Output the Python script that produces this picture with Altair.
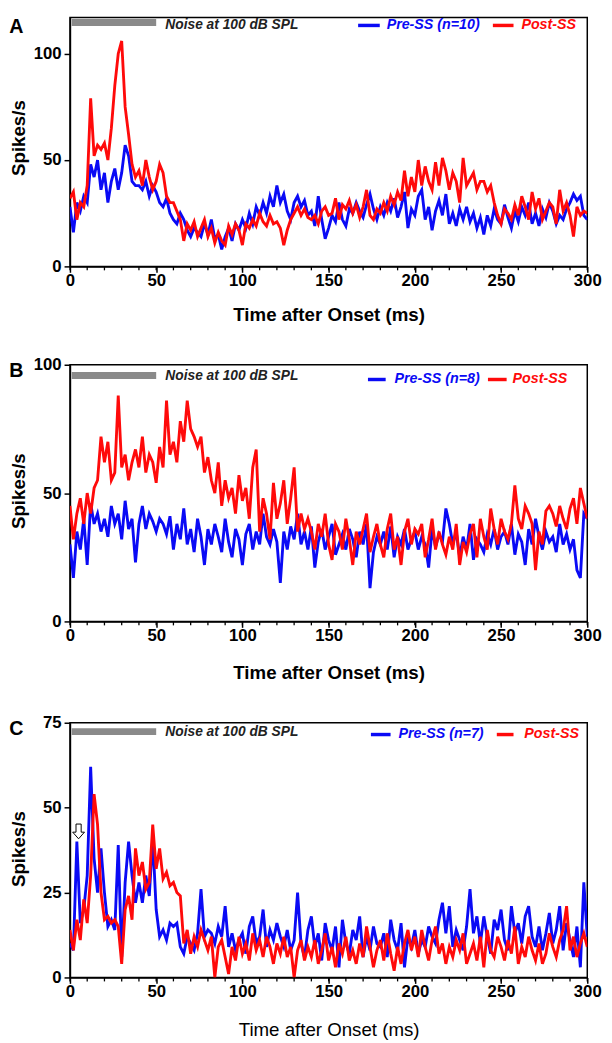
import altair as alt
import pandas as pd

# time axis (ms), 2-ms bins
t_ms = list(range(0, 301, 2))

# ---------------- Panel A ----------------
a_pre = [
    28, 16, 30, 26, 33, 30, 48, 42, 50, 36,
    44, 30, 40, 46, 36, 44, 57, 52, 40, 38,
    38, 36, 40, 33, 38, 35, 30, 28, 32, 25,
    22, 20, 25, 22, 17, 14, 18, 16, 14, 20,
    15, 22, 13, 15, 8, 14, 18, 12, 20, 17,
    22, 18, 25, 20, 28, 24, 30, 25, 33, 28,
    38, 30, 34, 26, 22, 30, 33, 28, 31, 24,
    26, 19, 33, 22, 13, 18, 24, 21, 30, 22,
    19, 27, 25, 30, 26, 23, 29, 34, 27, 22,
    28, 24, 30, 26, 32, 23, 28, 35, 18, 27,
    24, 33, 36, 22, 28, 17, 26, 31, 24, 34,
    20, 25, 19, 27, 22, 28, 21, 25, 18, 23,
    15, 24, 19, 27, 22, 20, 29, 23, 18, 26,
    21, 28, 24, 30, 20, 25, 19, 27, 23, 30,
    26, 20, 24, 22, 27, 30, 34, 31, 33, 24,
    22,
]
a_post = [
    32, 35, 22, 30, 28, 38, 79, 52, 57, 55,
    58, 50, 65, 85, 100, 106, 75, 62, 48, 42,
    45, 38, 50, 42, 36, 40, 48, 44, 33, 30,
    30, 26, 22, 12, 20, 17, 21, 14, 18, 22,
    14, 18, 11, 16, 12, 10, 19, 15, 20, 17,
    10, 20, 18, 22, 19, 25, 21, 19, 24, 20,
    21, 18, 10, 17, 22, 25, 28, 24, 27, 23,
    22, 24, 20, 26, 28, 24, 25, 32, 22, 29,
    27, 31, 25, 29, 23, 28, 36, 24, 22, 27,
    25, 30, 26, 33, 29, 35, 31, 45, 33, 42,
    35, 50, 38, 47, 40, 36, 49, 38, 51, 45,
    36, 44, 40, 30, 51, 38, 41, 44, 36, 40,
    40, 35, 38, 30, 24, 20, 27, 25, 22, 29,
    24, 33, 28, 22, 35, 27, 32, 22, 26, 30,
    28, 20, 36, 26, 30, 24, 14, 28, 24, 26,
    25,
]

# ---------------- Panel B ----------------
b_pre = [
    30, 17, 35, 28, 40, 22, 46, 38, 42, 35,
    40, 33, 45, 38, 42, 32, 47, 36, 40, 23,
    38, 45, 36, 42, 39, 35, 40, 38, 34, 41,
    28, 38, 32, 44, 30, 36, 27, 40, 33, 22,
    36, 30, 38, 33, 27, 40, 31, 25, 36, 32,
    22, 34, 38, 28, 35, 30, 42, 33, 30, 36,
    31, 15, 35, 28, 37, 32, 42, 30, 35, 28,
    37, 21, 31, 36, 28, 33, 38, 26, 30, 34,
    28, 36, 32, 25, 35, 30, 38, 13, 27, 33,
    30, 35, 28, 37, 25, 33, 30, 36, 28, 32,
    35, 28, 33, 30, 21, 36, 29, 34, 31, 44,
    38, 30, 35, 25, 33, 28, 38, 24, 32, 30,
    27, 34, 30, 36, 28, 33, 35, 30, 38, 26,
    34, 31, 22, 36, 30, 40, 33, 28, 35, 31,
    33, 27, 38, 30, 34, 28, 32, 20, 17, 42,
    40,
]
b_post = [
    45, 32, 42, 48, 38, 50, 42, 52, 55, 72,
    62, 70, 55, 58, 88, 60, 65, 55, 62, 67,
    60, 72, 58, 65, 62, 54, 68, 60, 86, 65,
    70, 62, 78, 70, 86, 75, 72, 68, 72, 58,
    64, 55, 50, 62, 45, 55, 48, 52, 42, 57,
    47, 52, 40, 60, 67, 35, 48, 42, 32, 54,
    40, 46, 55, 38, 48, 60, 35, 42, 36, 40,
    35, 28, 38, 33, 42, 30, 24, 38, 35, 28,
    40, 32, 22, 35, 30, 36, 42, 27, 33, 38,
    30, 25, 36, 42, 28, 33, 22, 35, 40, 30,
    36, 34, 38, 25, 32, 40, 28, 35, 30, 26,
    33, 28, 38, 22, 31, 27, 34, 38, 25, 40,
    33, 28, 44, 36, 30, 40, 35, 32, 38, 53,
    40, 36, 45, 42, 38, 20, 35, 30, 43, 45,
    42, 37, 45, 40, 36, 44, 48, 38, 52, 46,
    40,
]

# ---------------- Panel C ----------------
c_pre = [
    10, 8, 40, 16, 20, 30, 62, 35, 25, 38,
    25, 15, 17, 14, 39, 6, 28, 40, 30, 22,
    28, 22, 30, 24, 41, 20, 12, 14, 11, 16,
    15, 16, 9, 7, 12, 10, 8, 13, 26, 12,
    14, 13, 10, 15, 12, 21, 9, 13, 8, 11,
    13, 7, 15, 18, 10, 12, 20, 9, 14, 11,
    16, 12, 9, 14, 8, 11, 25, 10, 6, 14,
    18, 9, 13, 5, 16, 11, 8, 15, 3, 17,
    10, 7, 14, 11, 18, 6, 12, 8, 15, 10,
    9, 13, 6, 17, 11, 8, 16, 3, 12, 9,
    14, 7, 11, 9, 15, 12, 10, 17, 22, 13,
    21, 9, 14, 11, 8, 15, 26, 13, 18, 10,
    18, 12, 7, 17, 14, 20, 11, 8, 21, 13,
    16, 10, 18, 21, 12, 9, 15, 8, 13, 19,
    10, 14, 21, 8, 16, 11, 6, 15, 3, 28,
    12,
]
c_post = [
    14, 8, 17, 11, 23, 16, 30, 54, 45, 25,
    17, 18, 16, 17, 15, 4, 20, 24, 17, 38,
    30, 34, 26, 28, 45, 32, 38, 29, 31, 27,
    28, 25, 24, 10, 14, 7, 12, 9, 14, 11,
    8, 12, 0, 9, 11, 6, 1, 9, 5, 12,
    7, 10, 5, 13, 8, 11, 6, 12, 9, 4,
    10, 7, 12, 6, 9, 0, 8, 11, 5, 9,
    6, 11, 4, 8, 13, 5, 9, 3, 10, 7,
    12, 5, 8, 4, 10, 6, 15, 9, 3, 8,
    11, 5, 13, 7, 2, 9, 4, 10, 14, 8,
    12, 6, 14, 9, 5, 11, 15, 7, 10, 4,
    9, 6, 11, 8, 13, 4, 7, 10, 5, 12,
    3, 14, 8, 6, 12, 9, 5, 11, 7, 15,
    4, 9, 6, 12, 8, 5, 10, 4, 7, 13,
    9, 6, 11, 14, 21, 8, 12, 6, 10, 13,
    9,
]

x_tick_values = [0, 50, 100, 150, 200, 250, 300]
x_minor_ticks = list(range(0, 301, 10))
pre_labels = ["Pre-SS (n=10)", "Pre-SS (n=8)", "Pre-SS (n=7)"]
post_label = "Post-SS"
noise_label = "Noise at 100 dB SPL"
noise_start = [1]
noise_end = [50]
arrow_t = [5]
arrow_v = [43]

BLUE = "#0A0AF5"
RED = "#FF0A0A"
FONT = "Liberation Sans"
W = 526
ARROW = "M-0.35,-1 L0.35,-1 L0.35,0.1 L0.8,0.1 L0,1 L-0.8,0.1 L-0.35,0.1 Z"


def panel(pre, post, ymax, yvals, h, letter, pre_label, title_y, title_weight,
          letter_y, bar_y, text_y, leg_y, leg, ytitle_y, arrow=False):
    df = pd.DataFrame({"t": t_ms, "pre": pre, "post": post})
    xs = alt.Scale(domain=[0, 300], nice=False, zero=False)
    ys = alt.Scale(domain=[0, ymax], nice=False)
    xaxis = alt.Axis(values=x_tick_values, tickSize=6, labelPadding=0, labelFlush=False,
                     labelOverlap=False, title="Time after Onset (ms)", titleY=title_y,
                     titleX=W / 2, titleBaseline="middle", titleAlign="center",
                     titleFontWeight=title_weight, grid=False)
    yaxis = alt.Axis(values=yvals, tickSize=6, labelPadding=3, title="Spikes/s",
                     titleX=-52, titleY=ytitle_y, titleAngle=270, titleBaseline="middle",
                     titleAlign="center", grid=False, labelOverlap=False)
    X = alt.X("t:Q", scale=xs, axis=xaxis)
    base = alt.Chart(df)
    blue = base.mark_line(interpolate="linear", color=BLUE, strokeWidth=2.9, clip=True).encode(
        x=X, y=alt.Y("pre:Q", scale=ys, axis=yaxis),
    )
    red = base.mark_line(interpolate="linear", color=RED, strokeWidth=2.9, clip=True).encode(
        x=X, y=alt.Y("post:Q", scale=ys, axis=yaxis),
    )
    minor = alt.Chart(pd.DataFrame({"t": x_minor_ticks})).mark_rule(
        color="black", strokeWidth=1.3).encode(
        x=X, y=alt.value(h), y2=alt.value(h + 4))
    ndf = pd.DataFrame({"t": noise_start, "end": noise_end})
    bar = alt.Chart(ndf).mark_rule(color="#8A8A8A", strokeWidth=7).encode(
        x=X, x2="end:Q", y=alt.value(bar_y))
    ntext = alt.Chart(ndf).mark_text(
        align="left", baseline="middle", font=FONT, fontSize=14, fontStyle="italic",
        fontWeight="bold", color="#222222").encode(
        x=alt.value(97), y=alt.value(text_y), text=alt.value(noise_label))
    let = alt.Chart(ndf).mark_text(
        align="center", baseline="middle", font=FONT, fontSize=20, fontWeight="bold",
        color="black").encode(x=alt.value(-54.5), y=alt.value(letter_y), text=alt.value(letter))
    b1, b2, tb, r1, r2, tr = leg
    leg_blue = alt.Chart(ndf).mark_rule(color=BLUE, strokeWidth=3.5).encode(
        x=alt.value(b1), x2=alt.value(b2), y=alt.value(leg_y))
    leg_red = alt.Chart(ndf).mark_rule(color=RED, strokeWidth=3.5).encode(
        x=alt.value(r1), x2=alt.value(r2), y=alt.value(leg_y))
    leg_tb = alt.Chart(ndf).mark_text(
        align="left", baseline="middle", font=FONT, fontSize=14.5, fontStyle="italic",
        fontWeight="bold", color=BLUE).encode(
        x=alt.value(tb), y=alt.value(leg_y), text=alt.value(pre_label))
    leg_tr = alt.Chart(ndf).mark_text(
        align="left", baseline="middle", font=FONT, fontSize=14.5, fontStyle="italic",
        fontWeight="bold", color=RED).encode(
        x=alt.value(tr), y=alt.value(leg_y), text=alt.value(post_label))
    layers = [blue, red, minor, bar, ntext, let, leg_blue, leg_red, leg_tb, leg_tr]
    if arrow:
        adf = pd.DataFrame({"t": arrow_t, "pre": arrow_v})
        arr = alt.Chart(adf).mark_point(
            shape=ARROW, filled=True, fill="white", stroke="black", strokeWidth=1,
            size=225, opacity=1).encode(
            x=X, y=alt.Y("pre:Q", scale=ys, axis=yaxis))
        layers.append(arr)
    return alt.layer(*layers).properties(width=W, height=h)


pA = panel(a_pre, a_post, 117, [0, 50, 100], 253, "A", pre_labels[0], 49, "bold",
           10, 5, 8, 8, (293, 315, 322, 430, 451, 459), 122)
pB = panel(b_pre, b_post, 100, [0, 50, 100], 261, "B", pre_labels[1], 52, "bold",
           6, 11, 11, 15, (303, 321, 330, 425, 444, 450), 128)
pC = panel(c_pre, c_post, 75, [0, 25, 50, 75], 259, "C", pre_labels[2], 53, "normal",
           6, 9, 9, 12, (306, 326, 334, 434, 451, 462), 128, arrow=True)

chart = alt.vconcat(pA, pB, pC, spacing=30).properties(
    padding={"left": 0, "top": 0, "right": 2, "bottom": 0}
).configure_view(stroke="black", strokeWidth=1.5).configure_axis(
    labelFont=FONT, titleFont=FONT, labelFontSize=17, labelFontWeight="bold",
    titleFontSize=19, labelColor="black", titleColor="black",
    domainColor="black", tickColor="black", domainWidth=1.5, tickWidth=1.5,
)

chart.save("out.html", embed_options={"renderer": "svg", "actions": False})
